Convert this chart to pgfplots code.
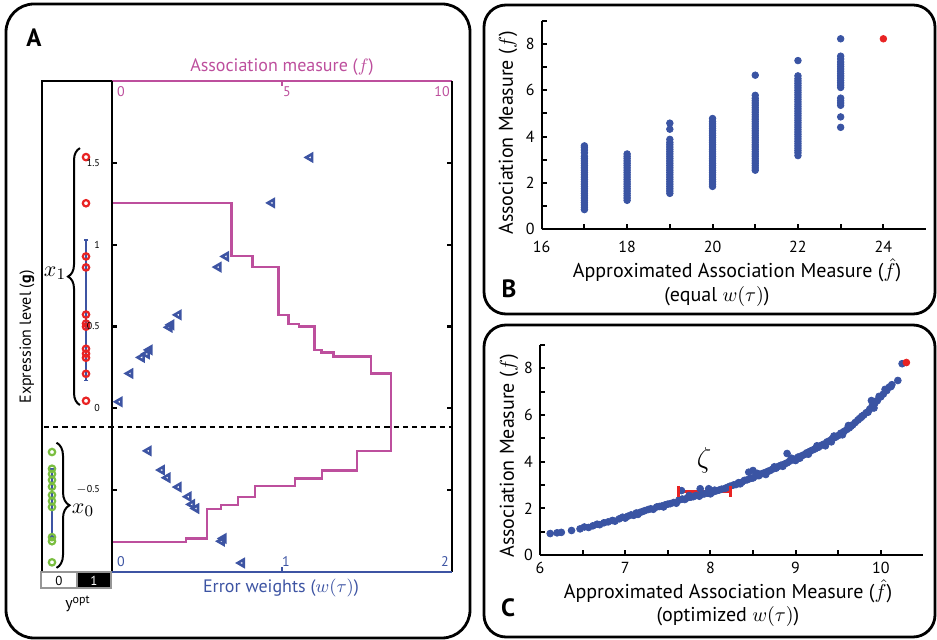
\documentclass[border=0pt]{standalone}
\usepackage{pgfplots}
\pgfplotsset{compat=1.18}
\usepackage{fontspec}
\setmainfont{PT Sans}
\usetikzlibrary{decorations.pathreplacing}
\definecolor{tri}{RGB}{61,84,163}
\definecolor{dotb}{RGB}{58,84,163}
\definecolor{pinkc}{RGB}{189,79,157}
\definecolor{redc}{RGB}{232,35,35}
\definecolor{greenc}{RGB}{122,190,64}
\definecolor{boxgray}{RGB}{150,150,150}
\begin{document}
\begin{tikzpicture}
\path[use as bounding box] (0,0) rectangle (468.5pt,-320pt);
% frames
\draw[line width=1.4pt, rounded corners=14pt] (3pt,-2pt) rectangle (235pt,-319pt);
\draw[line width=1.4pt, rounded corners=11pt] (242pt,-2.5pt) rectangle (467.5pt,-157pt);
\draw[line width=1.4pt, rounded corners=11pt] (242pt,-162.5pt) rectangle (467.5pt,-318.5pt);

% ---------- Panel A: strip ----------
\begin{axis}[at={(21pt,-286pt)}, anchor=south west, scale only axis,
  width=35pt, height=245.5pt, xmin=0, xmax=70, ymin=-1, ymax=2,
  axis line style={draw=none}, ticks=none, clip=false]
\addplot[tri, line width=1.1pt, mark=-, mark size=1.2pt, mark options={line width=0.9pt}] coordinates {(44,0.17) (44,1.03)};
\addplot[tri, line width=1.1pt, mark=-, mark size=1.2pt, mark options={line width=0.9pt}] coordinates {(10,-0.369) (10,-0.786)};
\addplot[only marks, mark=o, mark size=1.6pt, mark options={redc, line width=1.1pt}] coordinates {
(44,1.535) (44,1.253) (44,0.928) (44,0.861) (44,0.573) (44,0.518) (44,0.499) (44,0.364) (44,0.334) (44,0.309) (44,0.211) (44,0.046)};
\addplot[only marks, mark=o, mark size=1.6pt, mark options={greenc, line width=1.1pt}] coordinates {
(10,-0.267) (10,-0.369) (10,-0.401) (10,-0.438) (10,-0.479) (10,-0.530) (10,-0.567) (10,-0.603) (10,-0.787) (10,-0.812) (10,-0.941)};
\draw[line width=1.1pt] (rel axis cs:0,0) -- (rel axis cs:0,1) -- (rel axis cs:1,1);
\draw[decorate, decoration={brace, amplitude=6pt}, line width=1pt] (axis cs:38,0.02) -- (axis cs:38,1.59);
\draw[decorate, decoration={brace, amplitude=6.5pt}, line width=1pt] (axis cs:14.5,-0.21) -- (axis cs:14.5,-0.975);
\end{axis}

% ---------- Panel A: association measure (top axis) ----------
\begin{axis}[at={(56pt,-286pt)}, anchor=south west, scale only axis,
  width=170pt, height=245.5pt, xmin=0, xmax=10, ymin=-1, ymax=2,
  axis line style={draw=none}, xtick={5}, xticklabels={}, xtick pos=top,
  ytick=\empty, tick align=inside, major tick length=2.5pt,
  x tick style={pinkc, line width=1.1pt}, clip=false]
\addplot[pinkc, line width=1.3pt] coordinates {
(0,1.537) (0,1.255) (3.52,1.255) (3.52,0.930) (4.14,0.930) (4.14,0.863) (4.90,0.863) (4.90,0.571)
(5.19,0.571) (5.19,0.516) (5.50,0.516) (5.50,0.499) (5.95,0.499) (5.95,0.357) (6.17,0.357) (6.17,0.340)
(6.51,0.340) (6.51,0.317) (7.62,0.317) (7.62,0.213) (8.20,0.213) (8.20,-0.260) (7.20,-0.260) (7.20,-0.379)
(6.18,-0.379) (6.18,-0.428) (5.38,-0.428) (5.38,-0.475) (4.21,-0.475) (4.21,-0.542) (3.70,-0.542) (3.70,-0.591)
(3.21,-0.591) (3.21,-0.614) (2.79,-0.614) (2.79,-0.795) (2.18,-0.795) (2.18,-0.816) (0,-0.816) (0,-0.934)};
\draw[pinkc, line width=1.2pt] (rel axis cs:0,1) -- (rel axis cs:1,1);
\end{axis}

% ---------- Panel A: error weights (main) ----------
\begin{axis}[at={(56pt,-286pt)}, anchor=south west, scale only axis,
  width=170pt, height=245.5pt, xmin=0, xmax=2, ymin=-1, ymax=2,
  axis line style={draw=none}, xtick={1}, xticklabels={}, xtick pos=bottom,
  ytick={-0.5,0,0.5,1,1.5}, yticklabels={$-$0.5,0,0.5,1,1.5}, ytick pos=both,
  tick align=inside, major tick length=2.5pt,
  x tick style={tri, line width=1.1pt}, y tick style={black, line width=1.1pt},
  yticklabel style={font=\fontsize{5}{5}\selectfont, xshift=-2.5pt},
  clip=false]
\draw[line width=1.1pt] (rel axis cs:0,0) -- (rel axis cs:0,1);
\draw[line width=1.1pt] (rel axis cs:1,0) -- (rel axis cs:1,1);
\draw[tri, line width=1.2pt] (rel axis cs:0,0) -- (rel axis cs:1,0);
\draw[dashed, dash pattern=on 2.6pt off 2pt, line width=1.1pt] (axis cs:-0.40,-0.113) -- (axis cs:2,-0.113);
\addplot[only marks, mark=triangle, mark size=2.0pt, mark options={rotate=90, tri, line width=1.3pt}] coordinates {
(1.165,1.533) (0.94,1.255) (0.67,0.928) (0.625,0.863) (0.39,0.571) (0.347,0.51) (0.337,0.495)
(0.22,0.357) (0.204,0.332) (0.174,0.311) (0.106,0.213) (0.043,0.04)
(0.214,-0.260) (0.292,-0.377) (0.325,-0.424) (0.39,-0.481) (0.449,-0.540) (0.469,-0.587) (0.494,-0.612)
(0.645,-0.812) (0.655,-0.795) (0.763,-0.945)};
\end{axis}

% ---------- Panel B ----------
\begin{axis}[at={(270.85pt,-114.65pt)}, anchor=south west, scale only axis,
  width=192.2pt, height=104.3pt, xmin=16, xmax=25, ymin=0, ymax=9,
  axis lines*=left, axis line style={line width=1pt},
  xtick={16,18,...,24}, minor xtick={17,19,...,23}, ytick={0,2,...,8}, minor ytick={1,3,...,9},
  tick style={black, line width=1pt}, major tick length=2.5pt, minor tick length=2.5pt,
  tick align=inside,
  ticklabel style={font=\fontsize{8}{8}\selectfont},
  xticklabel style={yshift=-2.5pt},
  /pgf/number format/assume math mode=true, clip=false]
\addplot[only marks, mark=*, mark size=1.65pt, mark options={dotb, draw=dotb}] coordinates {
(17,0.85) (17,0.95) (17,1.05) (17,1.15) (17,1.25) (17,1.35) (17,1.45) (17,1.55) (17,1.65) (17,1.75) (17,1.85) (17,1.95)
(17,2.05) (17,2.15) (17,2.25) (17,2.35) (17,2.45) (17,2.55) (17,2.65) (17,2.75) (17,2.85) (17,2.95) (17,3.05) (17,3.15)
(17,3.30) (17,3.42) (17,3.52) (17,3.60)
(18,1.25) (18,1.35) (18,1.45) (18,1.55) (18,1.65) (18,1.75) (18,1.85) (18,1.95) (18,2.05) (18,2.15) (18,2.25)
(18,2.35) (18,2.45) (18,2.55) (18,2.65) (18,2.75) (18,2.85) (18,2.95) (18,3.05) (18,3.15) (18,3.25)
(19,1.55) (19,1.65) (19,1.75) (19,1.85) (19,1.95) (19,2.05) (19,2.15) (19,2.25) (19,2.35) (19,2.45) (19,2.55) (19,2.65)
(19,2.75) (19,2.85) (19,2.95) (19,3.05) (19,3.15) (19,3.25) (19,3.35) (19,3.45) (19,3.55) (19,3.65) (19,3.75) (19,3.88)
(19,4.32) (19,4.58)
(20,1.85) (20,1.95) (20,2.05) (20,2.15) (20,2.25) (20,2.35) (20,2.45) (20,2.55) (20,2.65) (20,2.75) (20,2.85) (20,2.95)
(20,3.05) (20,3.15) (20,3.25) (20,3.35) (20,3.45) (20,3.55) (20,3.65) (20,3.75) (20,3.85) (20,3.95) (20,4.05) (20,4.15)
(20,4.25) (20,4.35) (20,4.45) (20,4.55) (20,4.65) (20,4.78)
(21,2.55) (21,2.65) (21,2.75) (21,2.85) (21,2.95) (21,3.05) (21,3.15) (21,3.25) (21,3.35) (21,3.45) (21,3.55) (21,3.65)
(21,3.75) (21,3.85) (21,3.95) (21,4.05) (21,4.15) (21,4.25) (21,4.35) (21,4.45) (21,4.55) (21,4.65) (21,4.75) (21,4.85)
(21,4.95) (21,5.05) (21,5.15) (21,5.25) (21,5.35) (21,5.45) (21,5.55) (21,5.65) (21,5.78) (21,6.65)
(22,3.18) (22,3.30) (22,3.40) (22,3.50) (22,3.60) (22,3.70) (22,3.80) (22,3.90) (22,4.00) (22,4.10) (22,4.20) (22,4.30)
(22,4.40) (22,4.50) (22,4.60) (22,4.70) (22,4.80) (22,4.90) (22,5.00) (22,5.10) (22,5.20) (22,5.30) (22,5.40) (22,5.50)
(22,5.60) (22,5.70) (22,5.80) (22,5.90) (22,6.00) (22,6.10) (22,6.20) (22,6.30) (22,6.40) (22,6.50) (22,6.62) (22,7.28)
(23,4.40) (23,4.85) (23,5.35) (23,5.45) (23,5.55) (23,5.66) (23,6.12) (23,6.22) (23,6.32) (23,6.42) (23,6.52) (23,6.62)
(23,6.72) (23,6.82) (23,6.92) (23,7.02) (23,7.12) (23,7.22) (23,7.35) (23,7.47) (23,8.22)};
\addplot[only marks, mark=*, mark size=1.65pt, mark options={redc, draw=redc}] coordinates {(24,8.22)};
\end{axis}

% ---------- Panel C ----------
\begin{axis}[at={(270pt,-277.5pt)}, anchor=south west, scale only axis,
  width=191.7pt, height=105pt, xmin=6, xmax=10.5, ymin=0, ymax=9,
  axis lines*=left, axis line style={line width=1pt},
  xtick={6,7,...,10}, minor xtick={6.5,7.5,...,9.5}, ytick={0,2,...,8}, minor ytick={1,3,...,9},
  tick style={black, line width=1pt}, major tick length=2.5pt, minor tick length=2.5pt,
  tick align=inside,
  ticklabel style={font=\fontsize{8}{8}\selectfont},
  /pgf/number format/assume math mode=true, clip=false]
\addplot[only marks, mark=*, mark size=1.7pt, mark options={dotb, draw=dotb}] coordinates {
(6.12,0.92) (6.20,0.95) (6.25,0.97) (6.37,1.05) (6.47,1.12) (6.52,1.20) (6.57,1.18) (6.62,1.25) (6.67,1.32) (6.70,1.30)
(6.75,1.38) (6.80,1.42) (6.85,1.48) (6.88,1.45) (6.93,1.55) (6.97,1.62) (7.00,1.58) (7.03,1.66) (7.07,1.72) (7.10,1.70)
(7.13,1.80) (7.17,1.82) (7.20,1.86) (7.23,1.90) (7.27,1.95) (7.30,1.98) (7.33,1.96) (7.37,2.06) (7.40,2.08) (7.43,2.10)
(7.47,2.15) (7.50,2.18) (7.53,2.20) (7.57,2.25) (7.60,2.22) (7.63,2.35) (7.67,2.40) (7.66,2.76) (7.70,2.38) (7.73,2.45)
(7.77,2.48) (7.80,2.50) (7.83,2.55) (7.87,2.52) (7.88,2.84) (7.90,2.60) (7.93,2.62) (7.97,2.65) (7.98,2.84) (8.00,2.62)
(8.03,2.70) (8.07,2.75) (8.10,2.78) (8.13,2.82) (8.17,2.85) (8.20,2.90) (8.23,2.95) (8.27,3.00) (8.30,3.02) (8.33,3.10)
(8.37,3.12) (8.40,3.20) (8.43,3.22) (8.45,3.55) (8.50,3.62) (8.47,3.28) (8.50,3.30) (8.53,3.38) (8.57,3.40) (8.60,3.48)
(8.63,3.52) (8.67,3.58) (8.70,3.62) (8.73,3.68) (8.77,3.72) (8.80,3.80) (8.83,3.85) (8.87,3.90) (8.90,4.35) (8.90,3.95)
(8.93,4.02) (8.97,4.08) (9.00,4.12) (9.03,4.20) (9.07,4.25) (9.10,4.30) (9.13,4.38) (9.17,4.45) (9.20,4.50) (9.23,4.55)
(9.27,4.62) (9.30,4.70) (9.33,4.75) (9.37,4.85) (9.40,4.90) (9.43,4.98) (9.47,5.05) (9.50,5.12) (9.53,5.22) (9.57,5.30)
(9.60,5.38) (9.63,5.45) (9.67,5.58) (9.70,5.68) (9.73,5.78) (9.77,5.90) (9.80,6.00) (9.83,6.10) (9.87,6.25) (9.90,6.40)
(9.93,6.50) (9.96,6.62) (10.00,6.78) (10.03,6.90) (10.07,7.05) (10.10,7.20) (10.13,7.30) (10.20,7.48) (10.25,8.20)
(7.15,1.74) (7.45,2.06) (7.75,2.55) (8.05,2.78) (8.35,3.05) (8.55,3.45) (8.65,3.45) (8.75,3.78) (8.85,3.80) (8.95,4.15)
(9.05,4.15) (9.15,4.32) (9.25,4.68) (9.35,4.68) (9.45,5.10) (9.55,5.15) (9.65,5.52) (9.75,5.85) (9.85,6.12) (9.92,6.30)
(9.98,6.80) (10.05,7.10) (10.12,7.22) (8.55,3.50) (9.00,4.05) (9.42,4.85) (9.62,5.55) (9.78,5.95) (9.95,6.60) (9.89,6.62)};
\addplot[only marks, mark=*, mark size=1.7pt, mark options={redc, draw=redc}] coordinates {(10.30,8.25)};
\addplot[redc, line width=1.5pt, mark=|, mark size=2.8pt, mark options={line width=1.5pt}] coordinates {(7.62,2.72) (8.23,2.72)};
\end{axis}

% ---------- Text ----------
\begin{scope}[x=0.5pt,y=-0.5pt]
\node[font=\fontsize{12.5}{12}\selectfont\bfseries] at (34,38) {A};
\node[font=\fontsize{12.5}{12}\selectfont\bfseries] at (509,289) {B};
\node[font=\fontsize{12.5}{12}\selectfont\bfseries] at (508,608) {C};
\node[pinkc, font=\fontsize{9}{9}\selectfont] at (282,67) {Association measure ($f$)};
\node[tri, font=\fontsize{9}{9}\selectfont] at (281,588) {Error weights ($w(\tau)$)};
\begin{scope}[font=\fontsize{7}{7}\selectfont]
\node[pinkc] at (121,92) {0};
\node[pinkc] at (287,92) {5};
\node[pinkc] at (442,92) {10};
\node[tri] at (121,562) {0};
\node[tri] at (286,562) {1};
\node[tri] at (445,562) {2};
\end{scope}
\node[rotate=90, font=\fontsize{8}{8}\selectfont] at (27,337) {Expression level (\textbf{g})};
% y opt box
\draw[line width=1pt, boxgray, fill=white] (41,572) rectangle (77,588);
\draw[line width=1pt, boxgray, fill=black] (77,572) rectangle (111,588);
\node[font=\fontsize{6.5}{6.5}\selectfont] at (59,580.5) {0};
\node[white, font=\fontsize{6.5}{6.5}\selectfont] at (94,580.5) {1};
\node[font=\fontsize{8}{8}\selectfont] at (78,604) {y\textsuperscript{opt}};
\node[font=\fontsize{11}{11}\selectfont] at (55,273) {$x_1$};
\node[font=\fontsize{11}{11}\selectfont] at (83,510) {$x_0$};
% B labels
\node[font=\fontsize{10}{10}\selectfont] at (737,270) {Approximated Association Measure ($\hat{f}$)};
\node[font=\fontsize{10}{10}\selectfont] at (717,297) {(equal $w(\tau)$)};
\node[rotate=90, font=\fontsize{10}{10}\selectfont] at (508,133) {Association Measure ($f$)};
% C labels
\node[font=\fontsize{10}{10}\selectfont] at (728,591) {Approximated Association Measure ($\hat{f}$)};
\node[font=\fontsize{10}{10}\selectfont] at (728,617) {(optimized $w(\tau)$)};
\node[rotate=90, font=\fontsize{10}{10}\selectfont] at (509,456) {Association Measure ($f$)};
\node[font=\fontsize{15}{15}\selectfont] at (704,460) {$\zeta$};
\end{scope}
\end{tikzpicture}
\end{document}
